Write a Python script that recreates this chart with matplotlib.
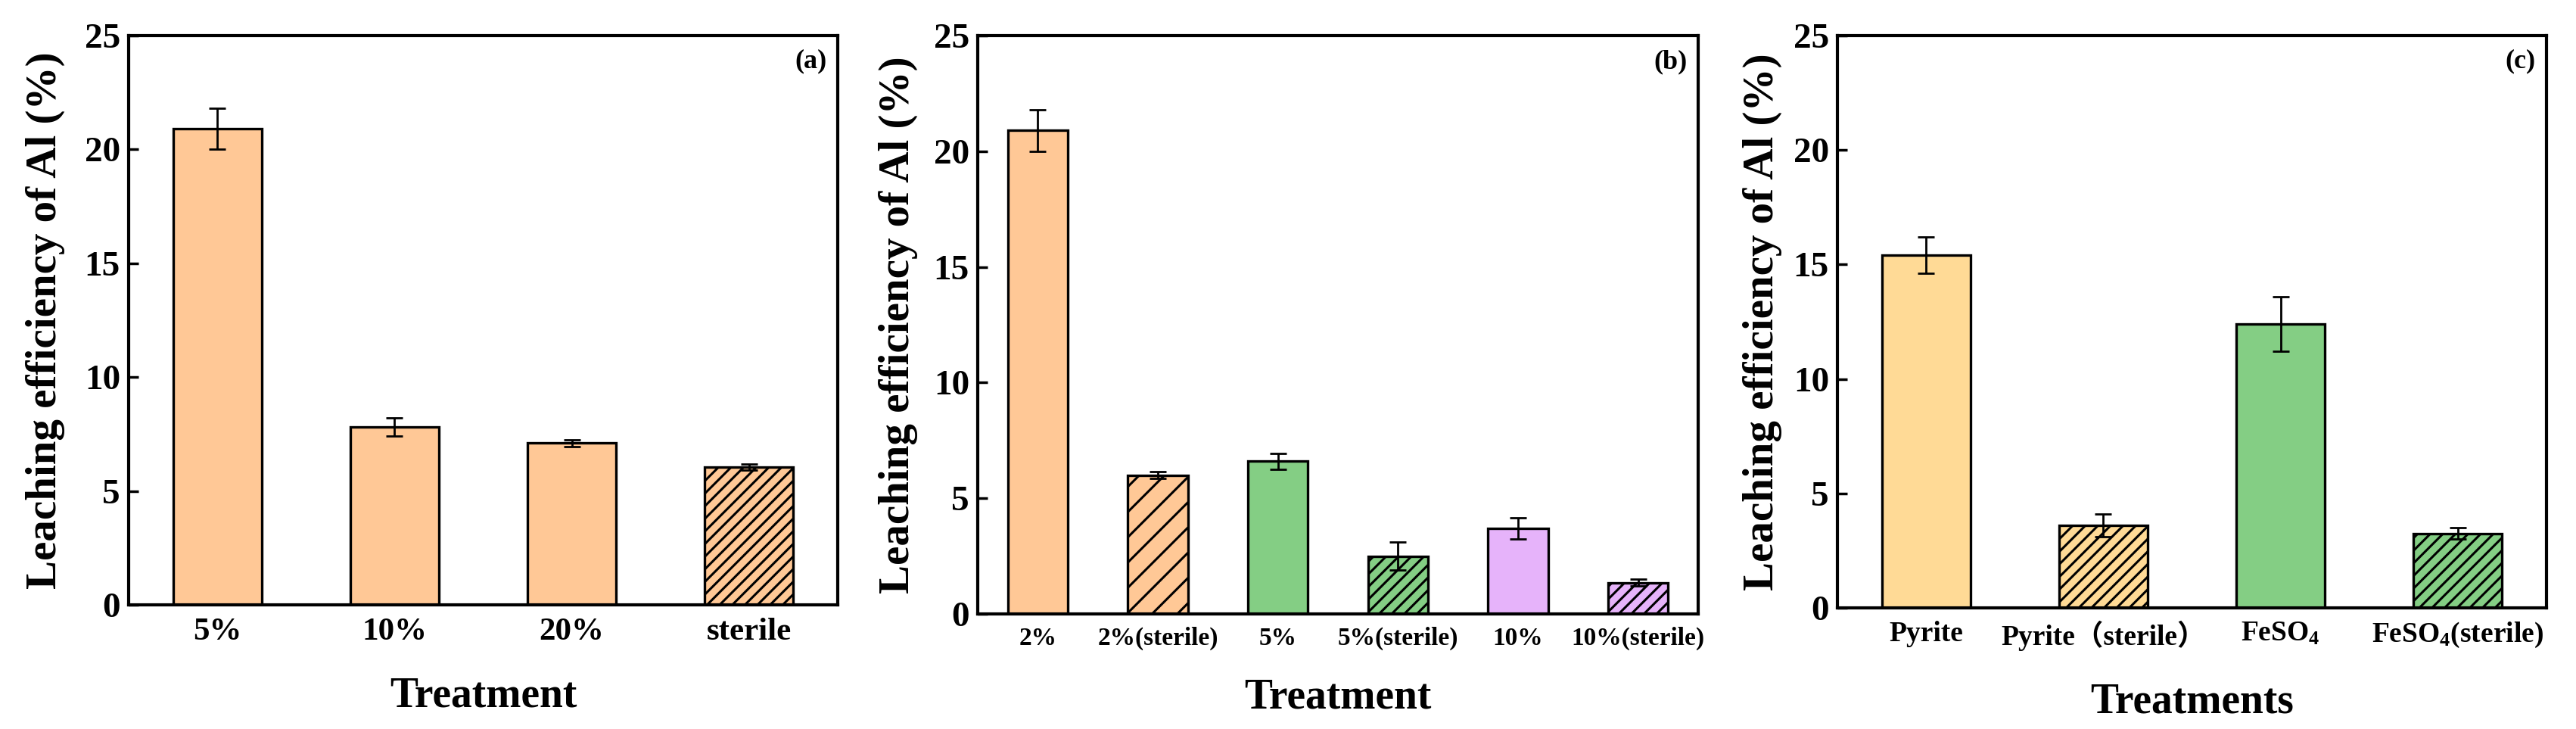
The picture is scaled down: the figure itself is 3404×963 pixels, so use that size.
import matplotlib
matplotlib.use('Agg')
import matplotlib.pyplot as plt
import numpy as np

# Panel (a)
labels_a = ['5%', '10%', '20%', 'sterile']
values_a = [20.9, 7.8, 7.1, 6.05]
errors_a = [0.9, 0.4, 0.15, 0.12]

# Panel (b)
labels_b = ['2%', '2%(sterile)', '5%', '5%(sterile)', '10%', '10%(sterile)']
values_b = [20.9, 6.0, 6.6, 2.5, 3.7, 1.35]
errors_b = [0.9, 0.15, 0.35, 0.6, 0.45, 0.15]

# Panel (c)
labels_c = ['Pyrite', 'Pyrite\uff08sterile\uff09', 'FeSO$_4$', 'FeSO$_4$(sterile)']
values_c = [15.4, 3.6, 12.4, 3.25]
errors_c = [0.8, 0.5, 1.2, 0.25]

plt.rcParams['font.family'] = ['Liberation Serif', 'Noto Sans CJK SC']
plt.rcParams['font.weight'] = 'bold'
plt.rcParams['mathtext.fontset'] = 'custom'
plt.rcParams['mathtext.rm'] = 'Liberation Serif:bold'
plt.rcParams['mathtext.bf'] = 'Liberation Serif:bold'
plt.rcParams['mathtext.default'] = 'bf'
plt.rcParams['hatch.linewidth'] = 2.2
plt.rcParams['hatch.color'] = 'black'

orange = '#FFC896'
green = '#84CE84'
purple = '#E6B3FA'
yellow = '#FFDA96'

W, H = 3404, 963
fig = plt.figure(figsize=(W / 100, H / 100), dpi=100)


def panel(box, labels, values, errors, colors, hatches, tag, xlabel,
          tick_size, xlab_y, ylab_x, xtick_len):
    left, top, right, bottom = box
    ax = fig.add_axes([left / W, (H - bottom) / H, (right - left) / W, (bottom - top) / H])
    x = np.arange(len(values))
    bars = ax.bar(x, values, width=0.5, color=colors, edgecolor='black',
                  linewidth=2.4, zorder=2)
    for b, h in zip(bars, hatches):
        if h:
            b.set_hatch(h)
    ax.errorbar(x, values, yerr=errors, fmt='none', ecolor='black',
                elinewidth=2, capsize=8, capthick=2, zorder=3)
    ax.set_xlim(-0.5, len(values) - 0.5)
    ax.set_ylim(0, 25)
    ax.set_yticks([0, 5, 10, 15, 20, 25])
    ax.set_xticks(x)
    ax.set_xticklabels(labels, fontsize=tick_size, fontweight='bold')
    ax.tick_params(axis='y', direction='in', length=9, width=2.5,
                   labelsize=34, pad=8)
    ax.tick_params(axis='x', direction='in', length=xtick_len, width=2.5, pad=12)
    for s in ax.spines.values():
        s.set_linewidth(3)
    ax.set_ylabel('Leaching efficiency of Al (%)', fontsize=41, fontweight='bold')
    ax.yaxis.set_label_coords(ylab_x, 0.5)
    ax.set_xlabel(xlabel, fontsize=40, fontweight='bold')
    ax.xaxis.label.set_va('center')
    ax.xaxis.set_label_coords(0.5, xlab_y)
    ax.text(0.985, 0.955, tag, transform=ax.transAxes, ha='right', va='center',
            fontsize=26, fontweight='bold')
    return ax


panel((170, 47, 1107, 799), labels_a, values_a, errors_a,
      [orange] * 4, [None, None, None, '//'], '(a)', 'Treatment',
      31, -0.16, -0.09, 0)

panel((1292, 47, 2244, 811), labels_b, values_b, errors_b,
      [orange, orange, green, green, purple, purple],
      [None, '/', None, '//', None, '//'], '(b)', 'Treatment',
      24, -0.145, -0.083, 0)

panel((2428, 47, 3365, 803), labels_c, values_c, errors_c,
      [yellow, yellow, green, green], [None, '//', None, '//'], '(c)', 'Treatments',
      27, -0.165, -0.078, 8)

fig.savefig('out.png', dpi=100, facecolor='white')
